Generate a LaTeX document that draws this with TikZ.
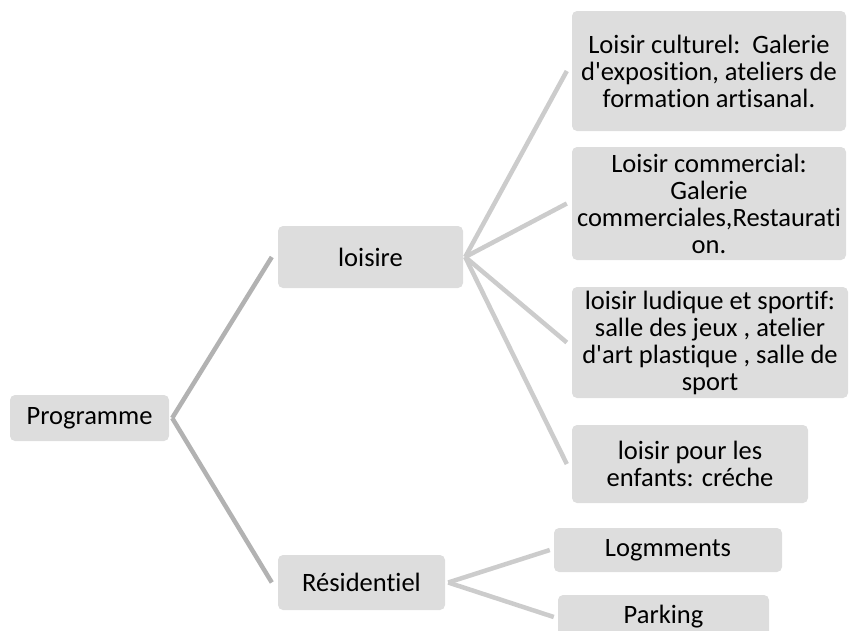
\documentclass[tikz,border=0pt]{standalone}
\usepackage{fontspec}
\setmainfont{Carlito}[Ligatures={TeX,NoCommon}]
\usepackage{xcolor}
\usepackage{tikz}
\usetikzlibrary{positioning, calc}

\definecolor{boxgray}{RGB}{221,221,221}
\definecolor{linkdark}{RGB}{178,178,178}
\definecolor{linklight}{RGB}{204,204,204}
\newcommand{\apos}{\textquotesingle}

\begin{document}
\begin{tikzpicture}[
    x=1pt, y=-1pt,
    box/.style={rectangle, fill=boxgray, rounded corners=5pt, inner sep=0pt, align=center,
        font=\fontsize{26.5}{27}\selectfont},
    link/.style={line width=4.5pt, linklight},
    rootlink/.style={line width=4.5pt, linkdark}
]
\useasboundingbox (0,0) rectangle (849,630);

% Root and first level
\node (prog) [box, minimum width=159pt, minimum height=46pt] at (89.5,418) {Programme};
\node (loisire) [box, minimum width=185pt, minimum height=62pt] at (370.5,257) {loisire};
\node (resid) [box, minimum width=167pt, minimum height=55pt] at (361.5,582.5) {Résidentiel};

% Loisirs
\node (cult) [box, minimum width=274pt, minimum height=120pt] at (709,71) {Loisir culturel:~~Galerie\\d\apos exposition, ateliers de\\formation artisanal.};
\node (comm) [box, minimum width=274pt, minimum height=113pt] at (709,203.5) {Loisir commercial:\\Galerie\\commerciales,Restaurati\\on.};
\node (ludi) [box, minimum width=276pt, minimum height=111pt] at (710,342.5) {loisir ludique et sportif:\\salle des jeux , atelier\\d\apos art plastique , salle de\\sport};
\node (enf) [box, minimum width=236pt, minimum height=78pt] at (690,464) {loisir pour les\\enfants: créche};

% Residentiel
\node (logm) [box, minimum width=228pt, minimum height=44pt] at (668,550) {Logmments};
\node (park) [box, minimum width=211pt, minimum height=44pt] at (663.5,617) {Parking};

% Connectors
\draw[rootlink] ([xshift=3pt]prog.east) -- ([xshift=-6pt]loisire.west);
\draw[rootlink] ([xshift=3pt]prog.east) -- ([xshift=-6pt]resid.west);
\foreach \child in {cult, comm, ludi, enf}
    \draw[link] ([xshift=2pt]loisire.east) -- ([xshift=-5pt]\child.west);
\foreach \child in {logm, park}
    \draw[link] ([xshift=3pt]resid.east) -- ([xshift=-4pt]\child.west);

\end{tikzpicture}
\end{document}
